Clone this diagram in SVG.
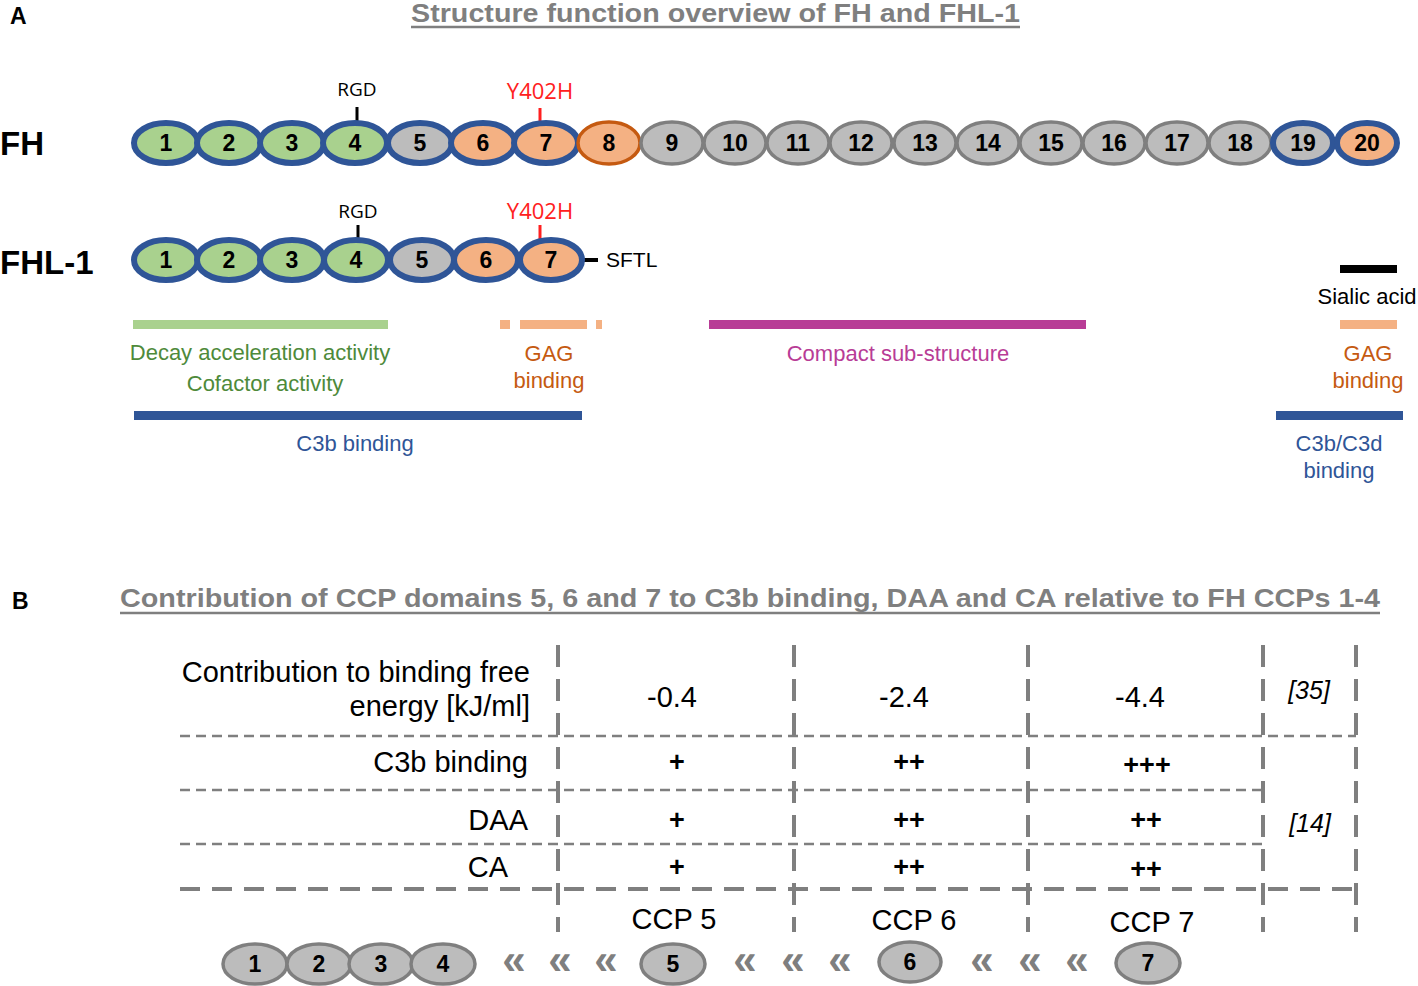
<svg xmlns="http://www.w3.org/2000/svg" width="1418" height="986" viewBox="0 0 1418 986">
<style>
.s{font-family:"Liberation Sans",Arial,sans-serif}
.o{font-family:"Open Sans","Liberation Sans",Arial,sans-serif}
.num{font-family:"Liberation Sans",Arial,sans-serif;font-weight:bold;font-size:23px;text-anchor:middle;fill:#000}
.ttl{font-family:"Liberation Sans",Arial,sans-serif;font-weight:bold;font-size:25px;fill:#7f7f7f}
.hd{font-family:"Liberation Sans",Arial,sans-serif;font-weight:bold;fill:#000}
.mid{text-anchor:middle}
.end{text-anchor:end}
.bo{stroke:#2f5597;stroke-width:6}
.go{stroke:#7f7f7f;stroke-width:3.5}
.oo{stroke:#c55a11;stroke-width:3.5}
.fg{fill:#a9d18e}
.fy{fill:#bcbcbc}
.fo{fill:#f4b183}
.vd{stroke:#7f7f7f;stroke-width:4;stroke-dasharray:22 12;fill:none}
.hd1{stroke:#7f7f7f;stroke-width:2.5;stroke-dasharray:10 6;fill:none}
.hd2{stroke:#7f7f7f;stroke-width:4;stroke-dasharray:20 12;fill:none}
.lab{font-family:"Liberation Sans",Arial,sans-serif;font-size:22px;text-anchor:middle}
.cell{font-family:"Liberation Sans",Arial,sans-serif;font-size:29px;fill:#000}
.pl{font-family:"Liberation Sans",Arial,sans-serif;font-size:27px;font-weight:bold;fill:#000;text-anchor:middle}
.ref{font-family:"Liberation Sans",Arial,sans-serif;font-size:25px;font-style:italic;fill:#000;text-anchor:middle}
.chev{font-family:"Liberation Sans",Arial,sans-serif;font-size:42px;font-weight:bold;fill:#7f7f7f;text-anchor:middle}
</style>

<!-- Panel A -->
<text class="hd" x="10" y="24" font-size="23">A</text>
<text class="ttl" x="411" y="22" textLength="609" lengthAdjust="spacingAndGlyphs">Structure function overview of FH and FHL-1</text>
<line x1="411" y1="27" x2="1020" y2="27" stroke="#7f7f7f" stroke-width="2.5"/>

<g id="fh">
<text class="hd" x="0" y="155" font-size="33">FH</text>
<line x1="357" y1="107" x2="357" y2="121" stroke="#000" stroke-width="3"/>
<text class="o mid" x="357" y="96" font-size="19">RGD</text>
<line x1="540" y1="108" x2="540" y2="122" stroke="#ff2020" stroke-width="3"/>
<text class="o mid" x="540" y="99" font-size="22" fill="#ff2020">Y402H</text>
<ellipse class="fg bo" cx="166" cy="143" rx="32" ry="20"/>
<ellipse class="fg bo" cx="229" cy="143" rx="32" ry="20"/>
<ellipse class="fg bo" cx="292" cy="143" rx="32" ry="20"/>
<ellipse class="fg bo" cx="355" cy="143" rx="32" ry="20"/>
<ellipse class="fy bo" cx="420" cy="143" rx="32" ry="20"/>
<ellipse class="fo bo" cx="483" cy="143" rx="32" ry="20"/>
<ellipse class="fo bo" cx="546" cy="143" rx="32" ry="20"/>
<ellipse class="fo oo" cx="609" cy="143" rx="31" ry="21"/>
<ellipse class="fy go" cx="672" cy="143" rx="31" ry="21"/>
<ellipse class="fy go" cx="735" cy="143" rx="31" ry="21"/>
<ellipse class="fy go" cx="798" cy="143" rx="31" ry="21"/>
<ellipse class="fy go" cx="861" cy="143" rx="31" ry="21"/>
<ellipse class="fy go" cx="925" cy="143" rx="31" ry="21"/>
<ellipse class="fy go" cx="988" cy="143" rx="31" ry="21"/>
<ellipse class="fy go" cx="1051" cy="143" rx="31" ry="21"/>
<ellipse class="fy go" cx="1114" cy="143" rx="31" ry="21"/>
<ellipse class="fy go" cx="1177" cy="143" rx="31" ry="21"/>
<ellipse class="fy go" cx="1240" cy="143" rx="31" ry="21"/>
<ellipse class="fy bo" cx="1303" cy="143" rx="30" ry="20"/>
<ellipse class="fo bo" cx="1367" cy="143" rx="30" ry="20"/>
<text class="num" x="166" y="151">1</text>
<text class="num" x="229" y="151">2</text>
<text class="num" x="292" y="151">3</text>
<text class="num" x="355" y="151">4</text>
<text class="num" x="420" y="151">5</text>
<text class="num" x="483" y="151">6</text>
<text class="num" x="546" y="151">7</text>
<text class="num" x="609" y="151">8</text>
<text class="num" x="672" y="151">9</text>
<text class="num" x="735" y="151">10</text>
<text class="num" x="798" y="151">11</text>
<text class="num" x="861" y="151">12</text>
<text class="num" x="925" y="151">13</text>
<text class="num" x="988" y="151">14</text>
<text class="num" x="1051" y="151">15</text>
<text class="num" x="1114" y="151">16</text>
<text class="num" x="1177" y="151">17</text>
<text class="num" x="1240" y="151">18</text>
<text class="num" x="1303" y="151">19</text>
<text class="num" x="1367" y="151">20</text>
</g>

<g id="fhl1">
<text class="hd" x="0" y="274" font-size="33">FHL-1</text>
<line x1="358" y1="225" x2="358" y2="240" stroke="#000" stroke-width="3"/>
<text class="o mid" x="358" y="218" font-size="19">RGD</text>
<line x1="540" y1="225" x2="540" y2="240" stroke="#ff2020" stroke-width="3"/>
<text class="o mid" x="540" y="219" font-size="22" fill="#ff2020">Y402H</text>
<line x1="584" y1="260" x2="598" y2="260" stroke="#000" stroke-width="4"/>
<text class="s" x="606" y="267" font-size="21">SFTL</text>
<ellipse class="fg bo" cx="166" cy="260" rx="32" ry="20"/>
<ellipse class="fg bo" cx="229" cy="260" rx="32" ry="20"/>
<ellipse class="fg bo" cx="292" cy="260" rx="32" ry="20"/>
<ellipse class="fg bo" cx="356" cy="260" rx="32" ry="20"/>
<ellipse class="fy bo" cx="422" cy="260" rx="32" ry="20"/>
<ellipse class="fo bo" cx="486" cy="260" rx="32" ry="20"/>
<ellipse class="fo bo" cx="551" cy="260" rx="31" ry="20"/>
<text class="num" x="166" y="268">1</text>
<text class="num" x="229" y="268">2</text>
<text class="num" x="292" y="268">3</text>
<text class="num" x="356" y="268">4</text>
<text class="num" x="422" y="268">5</text>
<text class="num" x="486" y="268">6</text>
<text class="num" x="551" y="268">7</text>
</g>

<g id="functions">
<rect x="133" y="320" width="255" height="9" fill="#a9d18e"/>
<text class="lab" x="260" y="360" fill="#4e8a3a">Decay acceleration activity</text>
<text class="lab" x="265" y="391" fill="#4e8a3a">Cofactor activity</text>
<rect x="500" y="320" width="10" height="9" fill="#f4b183"/>
<rect x="520" y="320" width="67" height="9" fill="#f4b183"/>
<rect x="596" y="320" width="6" height="9" fill="#f4b183"/>
<text class="lab" x="549" y="361" fill="#c55a11">GAG</text>
<text class="lab" x="549" y="388" fill="#c55a11">binding</text>
<rect x="134" y="411" width="448" height="9" fill="#2f5597"/>
<text class="lab" x="355" y="451" fill="#2f5597">C3b binding</text>
<rect x="709" y="320" width="377" height="9" fill="#b83c96"/>
<text class="lab" x="898" y="361" fill="#b83c96">Compact sub-structure</text>
<rect x="1340" y="265" width="57" height="8" fill="#000"/>
<text class="lab" x="1367" y="304" fill="#000">Sialic acid</text>
<rect x="1340" y="320" width="57" height="9" fill="#f4b183"/>
<text class="lab" x="1368" y="361" fill="#c55a11">GAG</text>
<text class="lab" x="1368" y="388" fill="#c55a11">binding</text>
<rect x="1276" y="411" width="127" height="9" fill="#2f5597"/>
<text class="lab" x="1339" y="451" fill="#2f5597">C3b/C3d</text>
<text class="lab" x="1339" y="478" fill="#2f5597">binding</text>
</g>

<!-- Panel B -->
<text class="hd" x="12" y="609" font-size="23">B</text>
<text class="ttl" x="120" y="607" textLength="1260" lengthAdjust="spacingAndGlyphs">Contribution of CCP domains 5, 6 and 7 to C3b binding, DAA and CA relative to FH CCPs 1-4</text>
<line x1="120" y1="613" x2="1380" y2="613" stroke="#7f7f7f" stroke-width="2.5"/>

<g id="table-lines">
<line class="vd" x1="558" y1="645" x2="558" y2="932"/>
<line class="vd" x1="794" y1="645" x2="794" y2="932"/>
<line class="vd" x1="1028" y1="645" x2="1028" y2="932"/>
<line class="vd" x1="1263" y1="645" x2="1263" y2="932"/>
<line class="vd" x1="1356" y1="645" x2="1356" y2="932"/>
<line class="hd1" x1="180" y1="736" x2="1356" y2="736"/>
<line class="hd1" x1="180" y1="790" x2="1263" y2="790"/>
<line class="hd1" x1="180" y1="844" x2="1263" y2="844"/>
<line class="hd2" x1="180" y1="889" x2="1356" y2="889"/>
</g>

<g id="table-text">
<text class="cell end" x="530" y="682">Contribution to binding free</text>
<text class="cell end" x="530" y="716">energy [kJ/ml]</text>
<text class="cell mid" x="672" y="707">-0.4</text>
<text class="cell mid" x="904" y="707">-2.4</text>
<text class="cell mid" x="1140" y="707">-4.4</text>
<text class="ref" x="1309" y="699">[35]</text>
<text class="cell end" x="528" y="772">C3b binding</text>
<text class="pl" x="677" y="771">+</text>
<text class="pl" x="909" y="771">++</text>
<text class="pl" x="1147" y="774">+++</text>
<text class="cell end" x="528" y="830">DAA</text>
<text class="pl" x="677" y="829">+</text>
<text class="pl" x="909" y="829">++</text>
<text class="pl" x="1146" y="829">++</text>
<text class="ref" x="1310" y="832">[14]</text>
<text class="cell end" x="508" y="877">CA</text>
<text class="pl" x="677" y="876">+</text>
<text class="pl" x="909" y="876">++</text>
<text class="pl" x="1146" y="878">++</text>
<text class="cell mid" x="674" y="929">CCP 5</text>
<text class="cell mid" x="914" y="930">CCP 6</text>
<text class="cell mid" x="1152" y="932">CCP 7</text>
</g>

<g id="ccp-row">
<ellipse class="fy go" cx="255" cy="964" rx="32" ry="20"/>
<ellipse class="fy go" cx="319" cy="964" rx="32" ry="20"/>
<ellipse class="fy go" cx="381" cy="964" rx="32" ry="20"/>
<ellipse class="fy go" cx="443" cy="964" rx="32" ry="20"/>
<ellipse class="fy go" cx="673" cy="964" rx="32" ry="20"/>
<ellipse class="fy go" cx="910" cy="962" rx="31" ry="20"/>
<ellipse class="fy go" cx="1148" cy="963" rx="32" ry="20"/>
<text class="num" x="255" y="972">1</text>
<text class="num" x="319" y="972">2</text>
<text class="num" x="381" y="972">3</text>
<text class="num" x="443" y="972">4</text>
<text class="num" x="673" y="972">5</text>
<text class="num" x="910" y="970">6</text>
<text class="num" x="1148" y="971">7</text>
<text class="chev" x="514" y="974">«</text>
<text class="chev" x="560" y="974">«</text>
<text class="chev" x="606" y="974">«</text>
<text class="chev" x="745" y="974">«</text>
<text class="chev" x="793" y="974">«</text>
<text class="chev" x="840" y="974">«</text>
<text class="chev" x="982" y="974">«</text>
<text class="chev" x="1030" y="974">«</text>
<text class="chev" x="1077" y="974">«</text>
</g>
</svg>
